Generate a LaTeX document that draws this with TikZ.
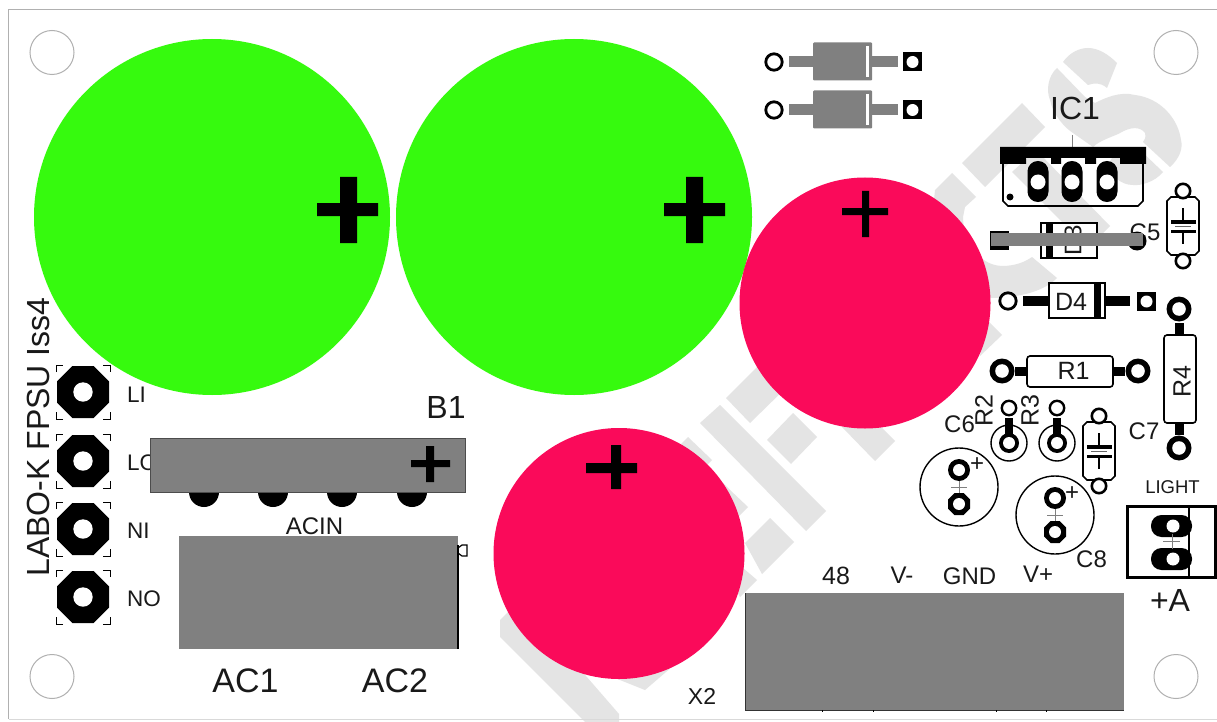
\documentclass[tikz,border=0pt]{standalone}
\usepackage{fontspec}
\setmainfont{Liberation Sans}
\definecolor{wm}{HTML}{E4E4E4}
\definecolor{grn}{HTML}{36FA0E}
\definecolor{rd}{HTML}{FA0A5A}
\definecolor{gy}{HTML}{808080}
\definecolor{edge}{HTML}{B0B0B0}
\newcommand{\fs}[1]{\fontsize{#1}{#1}\selectfont}
\tikzset{
  wmark/.style={fill=wm,draw=none},
  body/.style={fill=white,draw=black,line width=1.6pt},
  lab/.style={inner sep=0pt,anchor=center,text=black!90},
}
% octagon centred at #1,#2 with half width #3
\newcommand{\octa}[3]{\fill[black] ({#1-#3},{#2-0.41*#3}) -- ({#1-0.41*#3},{#2-#3}) -- ({#1+0.41*#3},{#2-#3}) -- ({#1+#3},{#2-0.41*#3}) -- ({#1+#3},{#2+0.41*#3}) -- ({#1+0.41*#3},{#2+#3}) -- ({#1-0.41*#3},{#2+#3}) -- ({#1-#3},{#2+0.41*#3}) -- cycle;}
\newcommand{\ringpad}[4]{\fill[black] (#1,#2) circle (#3); \fill[white] (#1,#2) circle (#4);}
\newcommand{\sqpad}[2]{\fill[black] ({#1-9.5},{#2-9.5}) rectangle ({#1+9.5},{#2+9.5}); \fill[white] (#1,#2) circle (6);}
\newcommand{\capsym}[2]{% centre x, top pad y (pads 70 apart)
  \fill[white,draw=black,line width=1.6pt] ({#1-12},{#2+6}) -- ({#1+12},{#2+6}) -- ({#1+16},{#2+10}) -- ({#1+16},{#2+60}) -- ({#1+12},{#2+64}) -- ({#1-12},{#2+64}) -- ({#1-16},{#2+60}) -- ({#1-16},{#2+10}) -- cycle;
  \draw[black,line width=2.6pt,fill=white] (#1,#2) circle (7.2);
  \draw[black,line width=2.6pt,fill=white] (#1,{#2+70}) circle (7.2);
  \draw[black!60,line width=0.4pt] ({#1-8},{#2+35.5}) -- ({#1+8},{#2+35.5});
  \fill[black] ({#1-12.5},{#2+29}) rectangle ({#1+12.5},{#2+32.5});
  \fill[black] ({#1-12.5},{#2+38.5}) rectangle ({#1+12.5},{#2+42});
  \draw[black,line width=1.8pt] (#1,{#2+17}) -- (#1,{#2+30}) (#1,{#2+40}) -- (#1,{#2+53});}
\newcommand{\elcap}[2]{% centre
  \draw[black,line width=1.4pt,fill=white] (#1,#2) circle (39);
  \draw[black!50,line width=0.4pt] (#1,{#2-8}) -- (#1,{#2+8}) ({#1-8},#2) -- ({#1+8},#2);
  \ringpad{#1}{#2-17}{11}{6}
  \octa{#1}{#2+17}{11}
  \fill[white] (#1,{#2+17}) circle (6);}
\newcommand{\trim}[2]{% small radial part R2/R3
  \draw[black,line width=1.4pt,fill=white] (#1,{#2+35}) circle (18);
  \fill[black] ({#1-4},{#2+10}) rectangle ({#1+4},{#2+26});
  \draw[black,line width=2.4pt,fill=white] (#1,#2) circle (7.2);
  \ringpad{#1}{#2+35}{10}{6}}
\newcommand{\gdiode}[1]{%
  \fill[gy] (789,{#1-5.5}) rectangle (898,{#1+5.5});
  \fill[gy,rounded corners=1pt] (813,{#1-19.5}) rectangle (872,{#1+18.5});
  \fill[white] (866,{#1-16}) rectangle (869,{#1+15});
  \draw[black,line width=2.8pt,fill=white] (774,#1) circle (8.2);
  \sqpad{912.5}{#1}}
\begin{document}
\begin{tikzpicture}[x=1pt,y=-1pt]
\useasboundingbox (0,0) rectangle (1217,722);
\fill[white] (0,0) rectangle (1217,722);

% ---------- watermark
\fill[wmark] (700,423) -- (720,405) -- (826,511) -- (806,531) -- cycle;
\fill[wmark] (726,398) -- (770,354) -- (795,379) -- (750,423) -- cycle;
\fill[wmark] (767,440) -- (793,413) -- (817,437) -- (791,464) -- cycle;
\fill[wmark] (842,427) -- (875,461) -- (895,441) -- (860,406) -- cycle;
\fill[wmark] (688,437) -- (712,460) -- (706,466) -- (730,490) -- (748,507) -- (735,520) -- (670,455) -- cycle;
\fill[wmark] (745,543) -- (770,518) -- (794,542) -- (762,574) -- cycle;
\fill[wmark] (720,560) -- (743,568) -- (757,580) -- (740,597) -- cycle;
\fill[wmark] (600,672) -- (645,690) -- (680,660) -- cycle;
\fill[wmark] (500,620) -- (520,600) -- (619,714) -- (619,722) -- (585,722) -- (500,637) -- cycle;
\fill[wmark] (962,163) -- (1022,103) -- (1045,127) -- (985,187) -- cycle;
\fill[wmark] (1012,172) -- (1036,150) -- (1110,226) -- (1088,248) -- cycle;
% letter C
\fill[wmark] (935,190) -- (952,173) -- (976,197) -- (965,207) -- (963,217) .. controls (963,235) and (975,265) .. (1002,266) .. controls (1015,266) and (1025,262) .. (1032,257) -- (1057,278) .. controls (1045,290) and (1025,297) .. (992,298) -- (960,290) -- (930,240) -- cycle;
\fill[wmark] (985,318) -- (1002,335) -- (980,356) -- cycle;
% letter S
\fill[wmark] (1063,62) .. controls (1070,52) and (1080,48) .. (1088,48) .. controls (1098,48) and (1108,54) .. (1117,63) -- (1107,88) .. controls (1100,82) and (1094,83) .. (1088,85) -- cycle;
\fill[wmark] (1057,68) .. controls (1048,76) and (1046,90) .. (1050,100) .. controls (1053,115) and (1065,128) .. (1073,133) -- (1093,147) .. controls (1100,140) and (1115,136) .. (1120,133) .. controls (1130,127) and (1140,126) .. (1145,133) .. controls (1146,137) and (1145,140) .. (1143,142) -- (1170,167) .. controls (1180,158) and (1183,148) .. (1181,140) .. controls (1178,118) and (1160,98) .. (1135,95) .. controls (1120,91) and (1105,98) .. (1095,103) -- (1085,97) -- cycle;
\fill[wmark] (1140,150) -- (1163,172) .. controls (1155,182) and (1140,186) .. (1133,185) .. controls (1120,185) and (1112,175) .. (1107,167) -- (1118,147) -- cycle;

% ---------- board and mounting holes
\draw[edge,line width=1pt] (1220,9.5) -- (8.5,9.5) -- (8.5,719);
\draw[black!15,line width=1.5pt] (8.5,719.5) -- (1220,719.5);
\foreach \hx/\hy in {52/52.5,1176/52.5,52/676.5,1176/676.5}
  \draw[edge,line width=1pt] (\hx,\hy) circle (22);

% ---------- big capacitors
\fill[grn] (212,217) circle (178);
\fill[grn] (574,217) circle (178);
\fill[rd] (865,303) circle (125.5);
\fill[rd] (619,553.5) circle (125.5);
\fill[black] (317,203) rectangle (378,216) (340,177) rectangle (357,243);
\fill[black] (664,203) rectangle (725,216) (686,177) rectangle (703,243);
\fill[black] (842,208) rectangle (888,215) (862,191) rectangle (869,237);
\fill[black] (586,463) rectangle (637,473) (611,445) rectangle (621,489);

% ---------- terminals
\foreach \ty in {392,461,529,597}{
  \octa{83}{\ty}{26}
  \fill[white] (83,\ty) circle (9.7);
  \draw[black,line width=1pt]
    (56,{\ty-20}) -- (56,{\ty-27}) -- (63,{\ty-27})
    (103,{\ty-27}) -- (110,{\ty-27}) -- (110,{\ty-20})
    (110,{\ty+20}) -- (110,{\ty+27}) -- (103,{\ty+27})
    (63,{\ty+27}) -- (56,{\ty+27}) -- (56,{\ty+20});
}
\node[lab,anchor=west] (tLI) at (127,395) {\fs{22.5}LI};
\node[lab,anchor=west] (tLO) at (127,463) {\fs{22.5}LO};
\node[lab,anchor=west] (tNI) at (127,531) {\fs{22.5}NI};
\node[lab,anchor=west] (tNO) at (127,599) {\fs{22.5}NO};
\node[lab,rotate=90] (tIss) at (38,437) {\fs{32}LABO-K FPSU Iss4};

% ---------- bridge B1
\foreach \px in {204,273,342,412} \fill[black] (\px,492) circle (15);
\fill[gy,draw=black!70,line width=0.6pt] (150,438) rectangle (465,492);
\fill[black] (411,460) rectangle (450,467) (426,446) rectangle (434,482);
\node[lab] (tB1) at (446,407.5) {\fs{32}B1};

% ---------- AC connector
\draw[black,line width=1.2pt,fill=white] (458,548) -- (462,545) -- (467,545) -- (467,556) -- (462,556) -- (458,553);
\node[lab] (tACIN) at (314.5,526) {\fs{24}ACIN};
\fill[gy] (179,536) rectangle (458,649);
\draw[black,line width=1.2pt] (458,545) -- (458,649);
\node[lab] (tAC1) at (245.5,681) {\fs{34}AC1};
\node[lab] (tAC2) at (395,681) {\fs{34}AC2};

% ---------- X2 connector
\fill[gy] (745.5,593) rectangle (1124,710);
\draw[black!80,line width=1pt] (745.5,593) -- (745.5,710) -- (1124,710);
\foreach \tx in {822,873.5,996,1046.5} \draw[black,line width=0.8pt] (\tx,710) -- (\tx,711.5);
\node[lab] (t48) at (836,576) {\fs{25}48};
\node[lab] (tVm) at (902,575) {\fs{24}V-};
\node[lab] (tGND) at (969.5,576) {\fs{24}GND};
\node[lab] (tVp) at (1038,574) {\fs{24}V+};
\node[lab] (tX2) at (702,696) {\fs{23}X2};

% ---------- gray diodes
\gdiode{62}
\gdiode{110}

% ---------- IC1
\node[lab] (tIC1) at (1075,108) {\fs{32}IC1};
\draw[black!50,line width=0.6pt] (1072,135) -- (1072,158);
\draw[black,line width=1.6pt] (1003,160) -- (1003,201) -- (1008,206) -- (1138,206) -- (1143,201) -- (1143,160);
\fill[black] (1000,147) rectangle (1146,158) (1000,147) rectangle (1026,164) (1051,147) rectangle (1061,164) (1085,147) rectangle (1096,164) (1120,147) rectangle (1146,164);
\foreach \ix in {1038,1072,1107}{
  \fill[black,rounded corners=10.4pt] ({\ix-10.5},161) rectangle ({\ix+10.5},202);
  \fill[white] (\ix,182) circle (7.5);
}
\fill[black] (1010,197) circle (3.5);

% ---------- D3 with gray bar
\draw[black,line width=1.6pt,fill=white] (1041,223) rectangle (1097,258);
\fill[black] (1046,223) rectangle (1053,258);
\node[lab,rotate=90] (tD3) at (1073,240) {\fs{24}D3};
\node[lab] (tC5) at (1145,232) {\fs{24}C5};
\fill[black] (990,231) rectangle (1009,250);
\fill[black] (1137,241) circle (9.5);
\fill[gy] (991,233) rectangle (1143,246);

% ---------- C5 and the second film capacitor
\capsym{1183}{191}
\capsym{1099}{416}

% ---------- D4
\fill[black] (1023,296) rectangle (1130,306);
\draw[black,line width=1.6pt,fill=white] (1049,283) rectangle (1105,318);
\fill[black] (1094,283) rectangle (1101,318);
\node[lab] (tD4) at (1071,302) {\fs{25}D4};
\draw[black,line width=2.8pt,fill=white] (1008,301) circle (8.2);
\sqpad{1146.5}{301.5}

% ---------- R1, R4
\fill[black] (1015,367) rectangle (1125,376);
\draw[body,rounded corners=3pt] (1027,356) rectangle (1113,387);
\node[lab] (tR1) at (1073.5,371) {\fs{25}R1};
\ringpad{1002}{371}{12.5}{6.8}
\ringpad{1138}{371}{12.5}{6.8}
\fill[black] (1175,323) rectangle (1184,435);
\draw[body,rounded corners=3pt] (1164,335) rectangle (1196,423);
\node[lab,rotate=90] (tR4) at (1182,382) {\fs{25}R4};
\ringpad{1179}{309}{12.5}{6.8}
\ringpad{1179}{448}{12.5}{6.8}

% ---------- R2, R3 and labels
\trim{1009}{408}
\trim{1057}{408}
\node[lab,rotate=90] (tR2) at (984,411) {\fs{25}R2};
\node[lab,rotate=90] (tR3) at (1030,411) {\fs{25}R3};
\node[lab] (tC6) at (959.5,424) {\fs{24}C6};
\node[lab] (tC7) at (1144,431) {\fs{24}C7};
\node[lab] (tC8) at (1091.5,559) {\fs{24}C8};

% ---------- electrolytics
\elcap{959}{487}
\elcap{1055}{515}
\node[lab] (tP6) at (977,465) {\fs{24}+};
\node[lab] (tP8) at (1072,494) {\fs{24}+};

% ---------- LIGHT connector
\node[lab] (tLIGHT) at (1172.5,487) {\fs{18.5}LIGHT};
\draw[black,line width=3pt] (1127,506) rectangle (1215,577);
\draw[black,line width=2pt] (1189,506) -- (1189,577);
\foreach \ly in {526,559}{
  \fill[black,rounded corners=10.5pt] (1151,{\ly-11}) rectangle (1192,{\ly+11});
  \fill[white] (1173,\ly) circle (6.5);
}
\draw[black!50,line width=0.4pt] (1163,541.5) -- (1180,541.5) (1172,534) -- (1172,549);
\node[lab] (tA) at (1170,600) {\fs{32}+A};
\end{tikzpicture}
\end{document}
